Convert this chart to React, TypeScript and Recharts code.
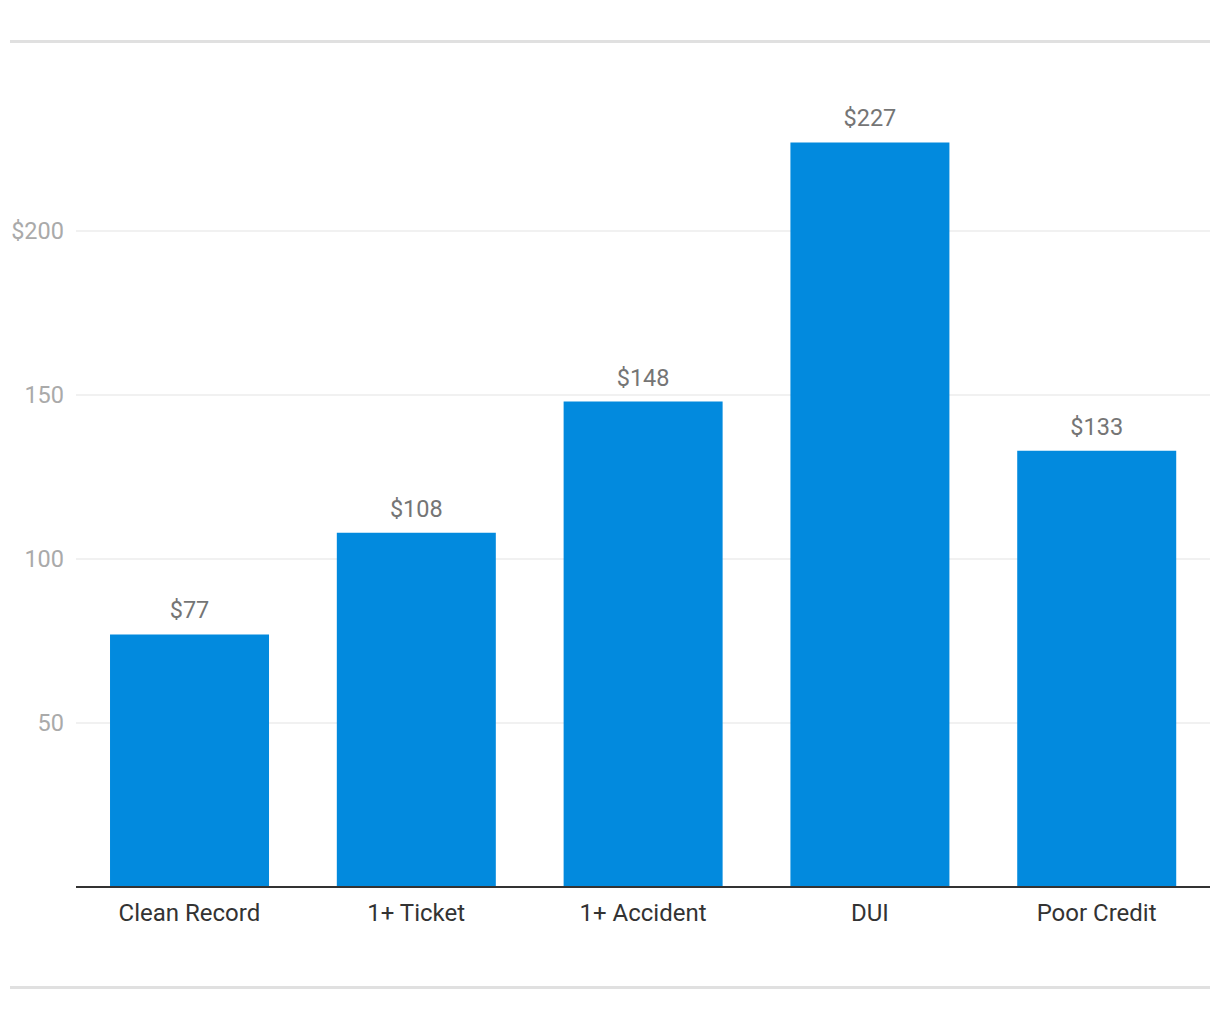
import React from "react";
import { BarChart, Bar, XAxis, YAxis, CartesianGrid, LabelList } from "recharts";

const categories = ["Clean Record", "1+ Ticket", "1+ Accident", "DUI", "Poor Credit"];
const premiums = [77, 108, 148, 227, 133];
const yTicks = [50, 100, 150, 200];

const data = categories.map((name, i) => ({ name, value: premiums[i] }));

const FONT = "Roboto, 'Noto Sans', sans-serif";

export default function App() {
  return (
    <div style={{ position: "absolute", left: 0, top: 0, width: 1220, height: 1020, background: "#fff", fontFamily: FONT }}>
      {/* rules above and below the chart */}
      <div style={{ position: "absolute", left: 10, top: 40, width: 1200, height: 3, background: "#e0e0e0" }} />
      <div style={{ position: "absolute", left: 10, top: 986, width: 1200, height: 3, background: "#e0e0e0" }} />

      <div style={{ position: "absolute", left: 0, top: 0 }}>
        <BarChart
          width={1220}
          height={1020}
          data={data}
          margin={{ top: 67, right: 10, left: 0, bottom: 93 }}
          barCategoryGap="15%"
        >
          <CartesianGrid vertical={false} horizontalValues={yTicks} stroke="#e3e3e3" strokeWidth={1} />
          <XAxis
            dataKey="name"
            height={40}
            tickLine={false}
            axisLine={{ stroke: "#333", strokeWidth: 2 }}
            tickMargin={11}
            tick={{ fill: "#333", fontSize: 24, fontFamily: FONT }}
          />
          <YAxis
            width={76}
            domain={[0, 250]}
            ticks={yTicks}
            axisLine={false}
            tickLine={false}
            tickMargin={6}
            tick={{ fill: "#aaa", fontSize: 23.5, fontFamily: FONT }}
            tickFormatter={(v) => (v === 200 ? `$${v}` : `${v}`)}
          />
          <Bar dataKey="value" fill="#028ade" isAnimationActive={false}>
            <LabelList
              dataKey="value"
              position="top"
              offset={16}
              formatter={(v) => `$${v}`}
              style={{ fill: "#757575", fontSize: 23.5, fontFamily: FONT }}
            />
          </Bar>
        </BarChart>
      </div>
    </div>
  );
}
